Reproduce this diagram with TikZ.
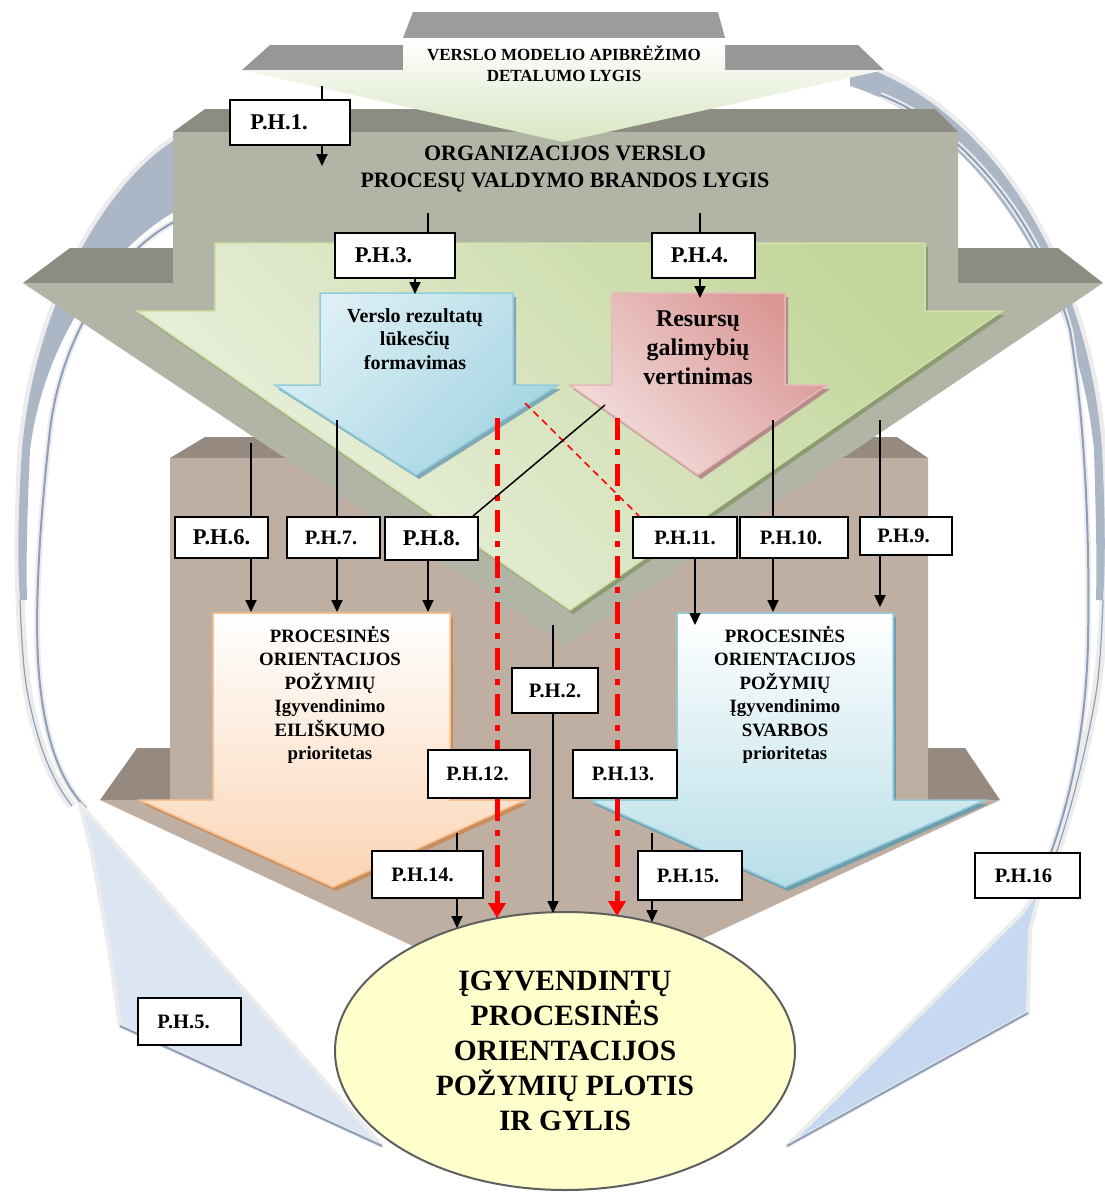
\documentclass[tikz,border=0pt]{standalone}
\usepackage{fontspec}
\setmainfont{Liberation Serif}
\usetikzlibrary{arrows.meta,shapes.geometric,calc}

\definecolor{ringlight}{HTML}{ECECEC}
\definecolor{ringblue}{HTML}{ABB6C6}
\definecolor{ringline}{HTML}{8E9FBA}
\definecolor{headleft}{HTML}{DCE6F2}
\definecolor{headright}{HTML}{C6D9F0}
\definecolor{topcap}{HTML}{9C9C9C}
\definecolor{topwing}{HTML}{979797}
\definecolor{topgreen}{HTML}{D9E6C3}
\definecolor{greyfront}{HTML}{B2B5A6}
\definecolor{greytop}{HTML}{8C8C82}
\definecolor{greenpale}{HTML}{EDF2E2}
\definecolor{greendeep}{HTML}{C3D69B}
\definecolor{greenedge}{HTML}{CFE0A8}
\definecolor{greenshadow}{HTML}{8D9B73}
\definecolor{bluepale}{HTML}{DDEFF5}
\definecolor{bluedeep}{HTML}{A3D4E2}
\definecolor{blueedge}{HTML}{92CDDC}
\definecolor{blueshadow}{HTML}{7FA9B5}
\definecolor{redpale}{HTML}{F4E0DF}
\definecolor{reddeep}{HTML}{D99694}
\definecolor{rededge}{HTML}{E6B9B8}
\definecolor{redshadow}{HTML}{B58C8B}
\definecolor{brownfront}{HTML}{BFAFA3}
\definecolor{browntop}{HTML}{958980}
\definecolor{peach}{HTML}{FBD4B4}
\definecolor{peachedge}{HTML}{FAC08F}
\definecolor{peachshadow}{HTML}{C98E5E}
\definecolor{skyend}{HTML}{B7DEE8}
\definecolor{skyedge}{HTML}{93CDDD}
\definecolor{skyshadow}{HTML}{6E9EAB}
\definecolor{ellfill}{HTML}{FFFFCC}
\definecolor{ellline}{HTML}{5F5F5F}

\tikzset{
  blk/.style={draw=black, line width=1.8pt},
  tipd/.style={-{Triangle[width=11pt,length=12pt]}},
  ph/.style={draw=black, line width=2.2pt, fill=white, inner sep=0pt,
             font=\bfseries\fontsize{20.5}{24}\selectfont},
  phbig/.style={ph, font=\bfseries\fontsize{22.5}{26}\selectfont},
  reddd/.style={draw=red, line width=5pt, dash pattern=on 22pt off 9pt on 6pt off 9pt},
  redtip/.style={-{Triangle[width=17pt,length=15pt]}},
  lbl/.style={align=center, inner sep=0pt},
}

\begin{document}
\begin{tikzpicture}[x=1pt,y=-1pt]
\useasboundingbox[fill=white] (0,0) rectangle (1104,1194);

% ---------- circular return arrows ----------
% left ribbon
\draw[ringlight, line width=9pt] (178,138) .. controls (110,178) and (35,300) .. (22,450) .. controls (16,560) and (20,650) .. (30,705) .. controls (40,750) and (52,780) .. (72,806);
\fill[ringblue] (178,138) .. controls (110,178) and (35,300) .. (22,450) .. controls (17,530) and (18,570) .. (20,600)
   -- (27,600) .. controls (26,560) and (27,520) .. (30,450) .. controls (45,330) and (120,240) .. (178,210) -- cycle;
\draw[ringline, line width=1.2pt] (20,600) .. controls (22,650) and (24,680) .. (30,705) .. controls (40,750) and (52,780) .. (72,806);
\draw[ringlight, line width=6pt] (174,222) .. controls (120,250) and (62,330) .. (50,430) .. controls (40,520) and (35,600) .. (38,660) .. controls (42,730) and (58,780) .. (86,808);
\draw[ringline, line width=2pt] (174,222) .. controls (120,250) and (62,330) .. (50,430) .. controls (40,520) and (35,600) .. (38,660) .. controls (42,730) and (58,780) .. (86,808);
\filldraw[fill=headleft, draw=ringlight, line width=4pt, line join=round] (80,804) -- (382,1146) -- (120,1026) -- (110,955) -- (92,853) -- cycle;
\draw[ringline, line width=2pt] (120,1026) -- (382,1146);
% right ribbon
\draw[ringlight, line width=9pt] (850,62) .. controls (1000,108) and (1090,280) .. (1102,450) .. controls (1108,560) and (1104,650) .. (1094,705) .. controls (1084,760) and (1066,830) .. (1046,882);
\fill[ringblue] (850,62) .. controls (1000,108) and (1090,280) .. (1102,450) .. controls (1106,530) and (1105,570) .. (1103,600)
   -- (1096,600) .. controls (1097,560) and (1096,520) .. (1094,450) .. controls (1080,300) and (990,130) .. (850,86) -- cycle;
\draw[ringline, line width=1.2pt] (1103,600) .. controls (1101,650) and (1099,680) .. (1094,705) .. controls (1084,760) and (1066,830) .. (1046,882);
\draw[ringlight, line width=6pt] (880,95) .. controls (960,125) and (1040,220) .. (1070,330) .. controls (1085,420) and (1090,540) .. (1088,640) .. controls (1086,740) and (1066,820) .. (1038,886);
\draw[ringline, line width=2pt] (880,95) .. controls (960,125) and (1040,220) .. (1070,330) .. controls (1085,420) and (1090,540) .. (1088,640) .. controls (1086,740) and (1066,820) .. (1038,886);
\filldraw[fill=headright, draw=ringlight, line width=4pt, line join=round] (1042,884) -- (1030,930) -- (1028,1013) -- (787,1146) -- (1022,913) -- cycle;
\draw[ringline, line width=2pt] (1028,1013) -- (787,1146);

% ---------- brown base arrow ----------
\fill[browntop] (205,437) -- (897,437) -- (928,458) -- (170,458) -- cycle;
\fill[browntop] (137,748) -- (170,748) -- (170,800) -- (100,800) -- cycle;
\fill[browntop] (928,748) -- (965,748) -- (1000,800) -- (928,800) -- cycle;
\fill[brownfront] (170,458) -- (928,458) -- (928,800) -- (1000,800) -- (550,1010) -- (100,800) -- (170,800) -- cycle;

% ---------- grey maturity arrow ----------
\fill[greytop] (205,109) -- (935,109) -- (958,132) -- (173,132) -- cycle;
\fill[greytop] (70,248) -- (173,248) -- (173,283) -- (23,283) -- cycle;
\fill[greytop] (958,248) -- (1058,248) -- (1103,283) -- (958,283) -- cycle;
\fill[greyfront] (173,132) -- (958,132) -- (958,283) -- (1103,283) -- (565,645) -- (23,283) -- (173,283) -- cycle;

% ---------- top arrow ----------
\fill[topcap] (413,12) -- (718,12) -- (725,38) -- (403,38) -- cycle;
\fill[topwing] (270,45) -- (403,45) -- (403,70) -- (242,70) -- cycle;
\fill[topwing] (725,45) -- (858,45) -- (884,70) -- (725,70) -- cycle;
\shade[top color=white, bottom color=topgreen] (403,38) -- (725,38) -- (725,70) -- (884,70) -- (563,142) -- (242,70) -- (403,70) -- cycle;

% ---------- green arrow ----------
\fill[greenshadow, shift={(3,4)}] (215,243) -- (925,243) -- (925,311) -- (1002,311) -- (570,610) -- (137,311) -- (215,311) -- cycle;
\shade[top color=greendeep, bottom color=greenpale, shading angle=-45] (215,243) -- (925,243) -- (925,311) -- (1002,311) -- (570,610) -- (137,311) -- (215,311) -- cycle;
\draw[greenedge, line width=1.5pt] (215,243) -- (925,243) -- (925,311) -- (1002,311) -- (570,610) -- (137,311) -- (215,311) -- cycle;

% ---------- blue and red arrows ----------
\fill[blueshadow, shift={(3,4)}] (320,293) -- (513,293) -- (513,385) -- (558,385) -- (416,475) -- (275,385) -- (320,385) -- cycle;
\shade[top color=bluepale, bottom color=bluedeep, shading angle=45] (320,293) -- (513,293) -- (513,385) -- (558,385) -- (416,475) -- (275,385) -- (320,385) -- cycle;
\draw[blueedge, line width=1.5pt] (320,293) -- (513,293) -- (513,385) -- (558,385) -- (416,475) -- (275,385) -- (320,385) -- cycle;

\fill[redshadow, shift={(3,4)}] (612,293) -- (785,293) -- (785,385) -- (827,385) -- (698,475) -- (570,385) -- (612,385) -- cycle;
\shade[top color=reddeep, bottom color=redpale, shading angle=-45] (612,293) -- (785,293) -- (785,385) -- (827,385) -- (698,475) -- (570,385) -- (612,385) -- cycle;
\draw[rededge, line width=1.5pt] (612,293) -- (785,293) -- (785,385) -- (827,385) -- (698,475) -- (570,385) -- (612,385) -- cycle;

% ---------- priority arrows ----------
\fill[peachshadow, shift={(3,4)}] (213,613) -- (450,613) -- (450,800) -- (525,800) -- (333,887) -- (140,800) -- (213,800) -- cycle;
\shade[top color=white, bottom color=peach] (213,613) -- (450,613) -- (450,800) -- (525,800) -- (333,887) -- (140,800) -- (213,800) -- cycle;
\draw[peachedge, line width=1.5pt] (213,613) -- (450,613) -- (450,800) -- (525,800) -- (333,887) -- (140,800) -- (213,800) -- cycle;

\fill[skyshadow, shift={(3,4)}] (677,613) -- (893,613) -- (893,800) -- (985,800) -- (785,887) -- (590,800) -- (677,800) -- cycle;
\shade[top color=white, bottom color=skyend] (677,613) -- (893,613) -- (893,800) -- (985,800) -- (785,887) -- (590,800) -- (677,800) -- cycle;
\draw[skyedge, line width=1.5pt] (677,613) -- (893,613) -- (893,800) -- (985,800) -- (785,887) -- (590,800) -- (677,800) -- cycle;

% ---------- texts on the arrows ----------
\node[lbl, font=\bfseries\fontsize{17}{21}\selectfont] (tx0) at (564,64) {VERSLO MODELIO APIBRĖŽIMO\\DETALUMO LYGIS};
\node[lbl, font=\bfseries\fontsize{22}{27}\selectfont] (txg) at (565,169) {ORGANIZACIJOS VERSLO\\PROCESŲ VALDYMO BRANDOS LYGIS};
\node[lbl, font=\bfseries\fontsize{20}{23.5}\selectfont] (txb) at (415,339) {Verslo rezultatų\\lūkesčių\\formavimas};
\node[lbl, font=\bfseries\fontsize{24}{29}\selectfont] (txr) at (698,348) {Resursų\\galimybių\\vertinimas};
\node[lbl, font=\bfseries\fontsize{18.8}{23.5}\selectfont] (txo) at (330,695) {PROCESINĖS\\ORIENTACIJOS\\POŽYMIŲ\\Įgyvendinimo\\EILIŠKUMO\\prioritetas};
\node[lbl, font=\bfseries\fontsize{18.8}{23.5}\selectfont] (txs) at (785,695) {PROCESINĖS\\ORIENTACIJOS\\POŽYMIŲ\\Įgyvendinimo\\SVARBOS\\prioritetas};

% ---------- result ellipse ----------
\node[ellipse, draw=ellline, line width=2pt, fill=ellfill, minimum width=460pt, minimum height=278pt, inner sep=0pt,
      align=center, font=\bfseries\fontsize{29.5}{35}\selectfont] (ell) at (565,1051)
      {ĮGYVENDINTŲ\\PROCESINĖS\\ORIENTACIJOS\\POŽYMIŲ PLOTIS\\IR GYLIS};

% ---------- hypothesis boxes ----------
\node[phbig, minimum width=120pt, minimum height=45pt] (ph1) at (290,122.5) {P.H.1.\hspace*{22pt}};
\node[phbig, minimum width=120pt, minimum height=45pt] (ph3) at (395,255.5) {P.H.3.\hspace*{23pt}};
\node[phbig, minimum width=103pt, minimum height=45pt] (ph4) at (703.5,255.5) {P.H.4.\hspace*{8pt}};
\node[phbig, minimum width=93pt, minimum height=41pt] (ph6) at (221.5,537.5) {P.H.6.};
\node[ph, minimum width=93pt, minimum height=41pt] (ph7) at (333.5,537.5) {P.H.7.\hspace*{5pt}};
\node[phbig, minimum width=93pt, minimum height=43pt] (ph8) at (431.5,538.5) {P.H.8.};
\node[ph, minimum width=104pt, minimum height=41pt] (ph11) at (685,537.5) {P.H.11.};
\node[ph, minimum width=108pt, minimum height=41pt] (ph10) at (794,537.5) {P.H.10.\hspace*{6pt}};
\node[ph, minimum width=92pt, minimum height=38pt] (ph9) at (906,536) {P.H.9.\hspace*{5pt}};
\node[ph, minimum width=86pt, minimum height=45pt] (ph2) at (555,690.5) {P.H.2.};
\node[ph, minimum width=102pt, minimum height=48pt] (ph12) at (479,774) {P.H.12.\hspace*{3pt}};
\node[ph, minimum width=104pt, minimum height=48pt] (ph13) at (625,774) {P.H.13.\hspace*{4pt}};
\node[ph, minimum width=111pt, minimum height=47pt] (ph14) at (427.5,874.5) {P.H.14.\hspace*{10pt}};
\node[ph, minimum width=104pt, minimum height=49pt] (ph15) at (690,875.5) {P.H.15.\hspace*{4pt}};
\node[ph, minimum width=105pt, minimum height=45pt] (ph16) at (1027.5,875.5) {P.H.16\hspace*{8pt}};
\node[ph, minimum width=103pt, minimum height=47pt] (ph5) at (189.5,1021.5) {P.H.5.\hspace*{12pt}};

% ---------- connector end points ----------
\coordinate (a1) at (322,86);   \coordinate (b1) at (322,166);
\coordinate (a3) at (428,213);  \coordinate (b3) at (415,294);
\coordinate (a4) at (700,213);  \coordinate (b4) at (700,298);
\coordinate (a6) at (251,443);  \coordinate (b6) at (251,612);
\coordinate (a7) at (337,420);  \coordinate (b7) at (337,612);
\coordinate (a8) at (605,405);  \coordinate (b8) at (428,612);
\coordinate (a11) at (525,403); \coordinate (b11) at (695,625);
\coordinate (a10) at (773,420); \coordinate (b10) at (773,612);
\coordinate (a9) at (880,420);  \coordinate (b9) at (880,607);
\coordinate (a2) at (553,625);  \coordinate (b2) at (553,913);
\coordinate (a14) at (457,833); \coordinate (b14) at (457,928);
\coordinate (a15) at (652,833); \coordinate (b15) at (652,922);
\coordinate (r12) at (497,418); \coordinate (e12) at (497,918);
\coordinate (r13) at (617,418); \coordinate (e13) at (617,916);

% ---------- red influence lines ----------
\draw[reddd] (r12) -- (r12 |- ph12.north);
\draw[reddd, redtip] (r12 |- ph12.south) -- (e12);
\draw[reddd] (r13) -- (r13 |- ph13.north);
\draw[reddd, redtip] (r13 |- ph13.south) -- (e13);
\draw[red, line width=1.6pt, dash pattern=on 7pt off 5pt] (a11) -- ($(ph11.north west)+(7,0)$);

% ---------- black connectors ----------
\draw[blk] (a1) -- (a1 |- ph1.north);   \draw[blk, tipd] (ph1.south -| b1) -- (b1);
\draw[blk] (a3) -- (a3 |- ph3.north);   \draw[blk, tipd] (ph3.south -| b3) -- (b3);
\draw[blk] (a4) -- (a4 |- ph4.north);   \draw[blk, tipd] (ph4.south -| b4) -- (b4);
\draw[blk] (a6) -- (a6 |- ph6.north);   \draw[blk, tipd] (ph6.south -| b6) -- (b6);
\draw[blk] (a7) -- (a7 |- ph7.north);   \draw[blk, tipd] (ph7.south -| b7) -- (b7);
\draw[blk, line width=1.5pt] (a8) -- ($(ph8.north east)+(-6,0)$);
\draw[blk, tipd] (ph8.south -| b8) -- (b8);
\draw[blk, tipd] (ph11.south -| b11) -- (b11);
\draw[blk] (a10) -- (a10 |- ph10.north); \draw[blk, tipd] (ph10.south -| b10) -- (b10);
\draw[blk] (a9) -- (a9 |- ph9.north);   \draw[blk, tipd] (ph9.south -| b9) -- (b9);
\draw[blk] (a2) -- (a2 |- ph2.north);   \draw[blk, tipd] (ph2.south -| b2) -- (b2);
\draw[blk] (a14) -- (a14 |- ph14.north); \draw[blk, tipd] (ph14.south -| b14) -- (b14);
\draw[blk] (a15) -- (a15 |- ph15.north); \draw[blk, tipd] (ph15.south -| b15) -- (b15);
\end{tikzpicture}
\end{document}
